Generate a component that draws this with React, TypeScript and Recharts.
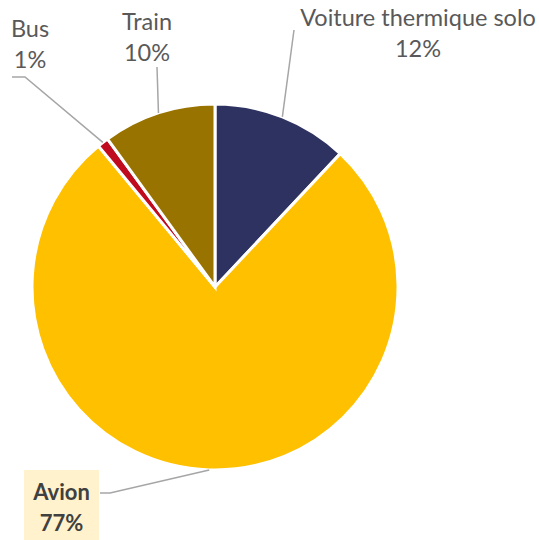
import React from 'react';
import { PieChart, Pie, Cell } from 'recharts';

const categories = ['Voiture thermique solo', 'Avion', 'Bus', 'Train'];
const shares = [12, 77, 1, 10];
const shareLabels = ['12%', '77%', '1%', '10%'];

const colors = ['#2E3260', '#FFC000', '#C00A1E', '#997300'];

const data = categories.map((name, i) => ({ name, value: shares[i], label: shareLabels[i] }));

// label layout: text centre x, first baseline y, leader polyline points after the slice anchor
const labelLayout = [
  { tx: 418, ty: 26, pts: [[294, 30]], bold: false },
  { tx: 61.5, ty: 500, pts: [[110, 493], [100, 493]], bold: true },
  { tx: 30, ty: 37, pts: [[25, 77], [12, 77]], bold: false },
  { tx: 147, ty: 30, pts: [[157, 67]], bold: false },
];

const RAD = Math.PI / 180;

const renderLabel = (props: any) => {
  const { cx, cy, midAngle, outerRadius, index } = props;
  const ax = cx + outerRadius * Math.cos(-midAngle * RAD);
  const ay = cy + outerRadius * Math.sin(-midAngle * RAD);
  const L = labelLayout[index];
  const d = data[index];
  const pts = [[ax, ay], ...L.pts].map((p) => p.join(',')).join(' ');
  return (
    <g key={`lbl-${index}`}>
      <polyline points={pts} fill="none" stroke="#A6A6A6" strokeWidth={1.5} />
      {L.bold && <rect x={24} y={470} width={75} height={70} fill="#FFF2CC" />}
      <text
        x={L.tx}
        y={L.ty}
        textAnchor="middle"
        fontFamily="Lato, sans-serif"
        fontSize={L.bold ? 22 : 23.5}
        fontWeight={L.bold ? 700 : 400}
        fill={L.bold ? '#404040' : '#595959'}
      >
        <tspan x={L.tx} y={L.ty}>{d.name}</tspan>
        <tspan x={L.tx} y={L.ty + 30.5}>{d.label}</tspan>
      </text>
    </g>
  );
};

export default function App() {
  return (
    <div style={{ position: 'absolute', left: 0, top: 0, width: 539, height: 540, background: '#fff' }}>
      <PieChart width={539} height={540} margin={{ top: 0, right: 0, bottom: 0, left: 0 }}>
        <Pie
          data={data}
          dataKey="value"
          nameKey="name"
          cx={215}
          cy={287}
          outerRadius={183}
          startAngle={90}
          endAngle={-270}
          stroke="#ffffff"
          strokeWidth={3}
          label={renderLabel}
          labelLine={false}
          isAnimationActive={false}
        >
          {data.map((d, i) => (
            <Cell key={d.name} fill={colors[i]} />
          ))}
        </Pie>
      </PieChart>
    </div>
  );
}
